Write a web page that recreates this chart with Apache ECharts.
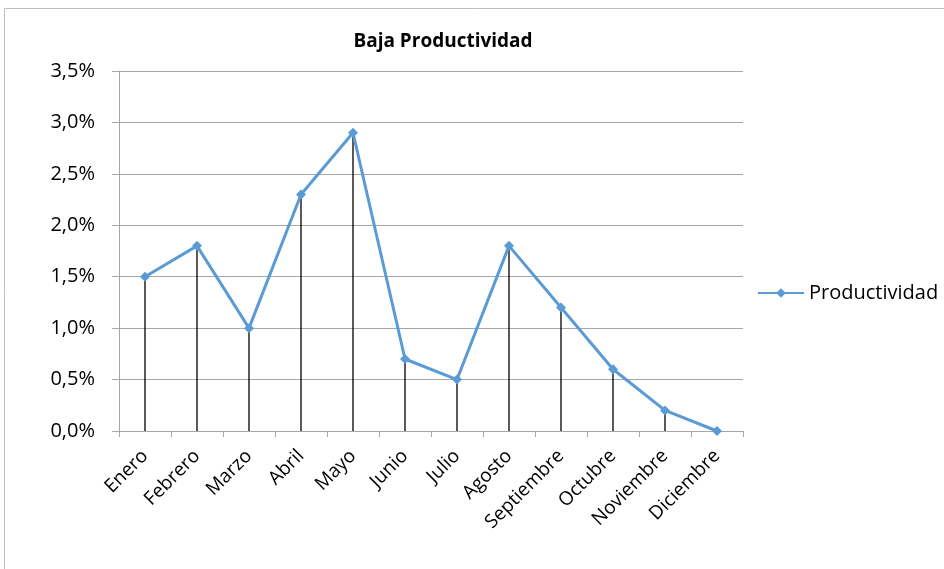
<!DOCTYPE html>
<html><head><meta charset="utf-8">
<script src="https://cdn.jsdelivr.net/npm/echarts@6/dist/echarts.min.js"></script>
<style>html,body{margin:0;padding:0;background:#fff}#c{width:944px;height:569px}</style>
</head><body><div id="c"></div>
<script>
const categories = ['Enero','Febrero','Marzo','Abril','Mayo','Junio','Julio','Agosto','Septiembre','Octubre','Noviembre','Diciembre'];
const productividad = [1.5, 1.8, 1.0, 2.3, 2.9, 0.7, 0.5, 1.8, 1.2, 0.6, 0.2, 0.0];
const seriesName = 'Productividad';
const titleText = 'Baja Productividad';

const chart = echarts.init(document.getElementById('c'));
const font = '"Open Sans", "Noto Sans", sans-serif';
chart.setOption({
  animation: false,
  textStyle: { fontFamily: font },
  graphic: [{ type: 'rect', shape: { x: 4.5, y: 8.5, width: 960, height: 600 }, style: { fill: 'none', stroke: '#bfbfbf', lineWidth: 1 }, silent: true }],
  title: { text: titleText, left: 438, top: 27, textAlign: 'center',
    textStyle: { fontSize: 19, fontWeight: 'bold', color: '#000', fontFamily: font } },
  legend: { data: [{ name: seriesName }], left: 752, top: 278, itemWidth: 46, itemHeight: 12, itemGap: 3,
    textStyle: { fontSize: 20, color: '#000', fontFamily: font } },
  grid: { left: 119, right: 201, top: 71, bottom: 138 },
  xAxis: { type: 'category', data: categories, boundaryGap: true,
    axisLine: { lineStyle: { color: '#a6a6a6', width: 1 } },
    axisTick: { show: true, alignWithLabel: false, length: 6, lineStyle: { color: '#a6a6a6' } },
    axisLabel: { rotate: 45, interval: 0, fontSize: 19, color: '#000', margin: 22, fontFamily: font } },
  yAxis: { type: 'value', min: 0, max: 3.5, interval: 0.5,
    axisLine: { show: true, lineStyle: { color: '#a6a6a6', width: 1 } },
    axisTick: { show: true, length: 7, lineStyle: { color: '#a6a6a6' } },
    splitLine: { lineStyle: { color: '#a6a6a6', width: 1 } },
    axisLabel: { fontSize: 20, color: '#000', margin: 24, fontFamily: font,
      formatter: v => v.toFixed(1).replace('.', ',') + '%' } },
  series: [
    { name: 'drop', type: 'bar', data: productividad, barWidth: 1.3, barGap: '-100%', silent: true,
      itemStyle: { color: '#000' }, z: 1 },
    { name: seriesName, type: 'line', data: productividad, symbol: 'diamond', symbolSize: 10,
      lineStyle: { color: '#5b9bd5', width: 3 }, itemStyle: { color: '#5b9bd5' }, z: 3 }
  ]
});
</script></body></html>
